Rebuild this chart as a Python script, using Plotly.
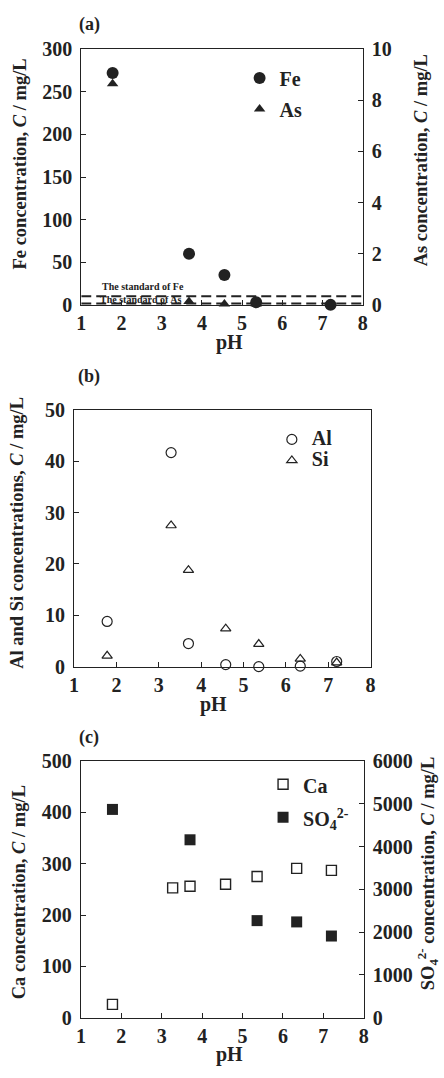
import plotly.graph_objects as go

# ---------------- data ----------------
# Panel (a): Fe (left axis) and As (right axis)
ph_fe = [1.78, 3.68, 4.56, 5.35, 7.20]
fe = [272, 60, 35, 3, 0]
ph_as = [1.78, 3.68, 4.56, 5.35]
as_conc = [8.65, 0.13, 0.03, 0.03]
fe_standard = 10
as_standard = 0.05
ph_range = [1, 8]

# Panel (b): Al and Si
ph_b = [1.78, 3.29, 3.70, 4.58, 5.36, 6.34, 7.20]
al = [8.8, 41.7, 4.5, 0.4, 0.0, 0.1, 1.0]
si = [2.1, 27.5, 18.8, 7.4, 4.4, 1.5, 0.8]

# Panel (c): Ca (left axis) and SO4 (right axis)
ph_ca = [1.78, 3.27, 3.70, 4.58, 5.36, 6.34, 7.20]
ca = [26, 253, 256, 260, 275, 291, 287]
ph_so4 = [1.78, 3.70, 5.36, 6.34, 7.20]
so4 = [4870, 4160, 2270, 2240, 1910]

# ---------------- style ----------------
W, H = 444, 1078
INK = "#222222"
FAM = "Liberation Serif"
TICKFONT = dict(family=FAM, size=20, color=INK, weight="bold")


def px(x):
    return x / W


def py(y):
    return 1 - y / H


def leg_text(t):
    return f'<span style="font-size:20px">{t}</span>'


axis_common = dict(showline=True, linecolor=INK, linewidth=1.2, ticks="inside",
                   ticklen=5, tickwidth=1.2, tickcolor=INK, showgrid=False,
                   zeroline=False, tickfont=TICKFONT)

fig = go.Figure()

# ---- panel (a)
fig.add_trace(go.Scatter(x=ph_fe, y=fe, mode="markers", name=leg_text("Fe"),
                         marker=dict(symbol="circle", size=12, color=INK),
                         xaxis="x", yaxis="y", cliponaxis=False, legend="legend"))
fig.add_trace(go.Scatter(x=ph_as, y=as_conc, mode="markers", name=leg_text("As"),
                         marker=dict(symbol="triangle-up", size=10, color=INK),
                         xaxis="x", yaxis="y2", cliponaxis=False, legend="legend"))
fig.add_trace(go.Scatter(x=ph_range, y=[fe_standard, fe_standard], mode="lines",
                         line=dict(color=INK, width=2, dash="10px,5px"),
                         showlegend=False, xaxis="x", yaxis="y"))
fig.add_trace(go.Scatter(x=ph_range, y=[as_standard, as_standard], mode="lines",
                         line=dict(color=INK, width=2, dash="10px,5px"),
                         showlegend=False, xaxis="x", yaxis="y2", cliponaxis=False))

# ---- panel (b)
fig.add_trace(go.Scatter(x=ph_b, y=al, mode="markers", name=leg_text("Al"),
                         marker=dict(symbol="circle-open", size=10, color=INK,
                                     line=dict(width=1.2, color=INK)),
                         xaxis="x2", yaxis="y3", cliponaxis=False, legend="legend2"))
fig.add_trace(go.Scatter(x=ph_b, y=si, mode="markers", name=leg_text("Si"),
                         marker=dict(symbol="triangle-up-open", size=9, color=INK,
                                     line=dict(width=1.2, color=INK)),
                         xaxis="x2", yaxis="y3", cliponaxis=False, legend="legend2"))

# ---- panel (c)
fig.add_trace(go.Scatter(x=ph_ca, y=ca, mode="markers", name=leg_text("Ca"),
                         marker=dict(symbol="square-open", size=10, color=INK,
                                     line=dict(width=1.4, color=INK)),
                         xaxis="x3", yaxis="y4", cliponaxis=False, legend="legend3"))
fig.add_trace(go.Scatter(x=ph_so4, y=so4, mode="markers",
                         name=leg_text("SO<sub>4</sub><sup>2-</sup>"),
                         marker=dict(symbol="square", size=11, color=INK),
                         xaxis="x3", yaxis="y5", cliponaxis=False, legend="legend3"))

# ---------------- axes ----------------
dom_a_x = [px(78), px(366)]
dom_a_y = [py(300), py(39)]
dom_b_x = [px(70.7), px(374)]
dom_b_y = [py(669.3), py(407.3)]
dom_c_x = [px(77.7), px(367)]
dom_c_y = [py(1027.7), py(765.7)]

layout = dict(
    width=W, height=H, autosize=False,
    margin=dict(l=0, r=0, t=0, b=0),
    paper_bgcolor="white", plot_bgcolor="white",
    xaxis=dict(domain=dom_a_x, range=ph_range, dtick=1, anchor="y", mirror=True, **axis_common),
    yaxis=dict(domain=dom_a_y, range=[0, 300], dtick=50, anchor="x", ticklabelstandoff=4, **axis_common),
    yaxis2=dict(overlaying="y", side="right", range=[0, 10], dtick=2, anchor="x", ticklabelstandoff=4, **axis_common),
    xaxis2=dict(domain=dom_b_x, range=ph_range, dtick=1, anchor="y3", mirror=True, **axis_common),
    yaxis3=dict(domain=dom_b_y, range=[0, 50], dtick=10, anchor="x2", mirror=True, ticklabelstandoff=4, **axis_common),
    xaxis3=dict(domain=dom_c_x, range=ph_range, dtick=1, anchor="y4", mirror=True, **axis_common),
    yaxis4=dict(domain=dom_c_y, range=[0, 500], dtick=100, anchor="x3", ticklabelstandoff=4, **axis_common),
    yaxis5=dict(overlaying="y4", side="right", range=[0, 6000], dtick=1000, anchor="x3", ticklabelstandoff=4, **axis_common),
    legend=dict(x=px(240), y=py(47.5), xanchor="left", yanchor="top", bgcolor="rgba(0,0,0,0)",
                font=dict(family=FAM, size=21.5, color=INK, weight="bold"), borderwidth=0),
    legend2=dict(x=px(273), y=py(421.5), xanchor="left", yanchor="top", bgcolor="rgba(0,0,0,0)",
                 font=dict(family=FAM, size=13.85, color=INK, weight="bold"), borderwidth=0),
    legend3=dict(x=px(264), y=py(767.5), xanchor="left", yanchor="top", bgcolor="rgba(0,0,0,0)",
                 font=dict(family=FAM, size=23, color=INK, weight="bold"), borderwidth=0),
    showlegend=True,
)
fig.update_layout(**layout)

# ---------------- text annotations ----------------
def ann(text, x, y, size, angle=0, xanchor="center"):
    fig.add_annotation(text=text, x=px(x), y=py(y), xref="paper", yref="paper",
                       showarrow=False, textangle=angle, xanchor=xanchor, yanchor="middle",
                       font=dict(family=FAM, size=size, color=INK, weight="bold"))

ann("(a)", 86, 14, 18)
ann("(b)", 86, 373, 18)
ann("(c)", 86, 741.7, 18)
ann("pH", 230, 338, 20)
ann("pH", 213, 708, 20)
ann("pH", 230, 1065, 20)
ann("Fe concentration, <i>C</i> / mg/L", 15, 156, 18.5, -90)
ann("As concentration, <i>C</i> / mg/L", 425, 152, 18.5, -90)
ann("Al and Si concentrations, <i>C</i> / mg/L", 12, 533, 18.5, -90)
ann("Ca concentration, <i>C</i> / mg/L", 14, 900, 18.5, -90)
ann("SO<sub>4</sub><sup>2-</sup> concentration, <i>C</i> / mg/L", 432, 880, 18.5, -90)
ann("The standard of Fe", 97, 281.7, 10, xanchor="left")
ann("The standard of As", 95, 295, 10, xanchor="left")

fig.write_html("out.html")
